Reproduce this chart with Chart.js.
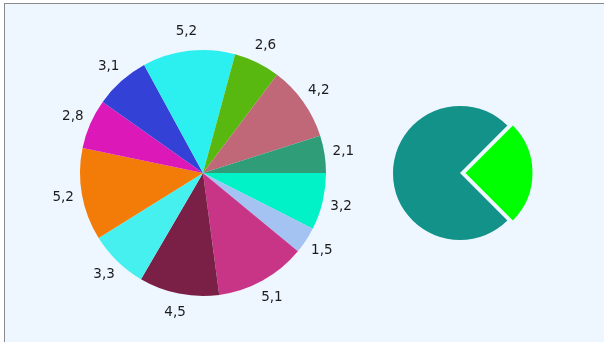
<!DOCTYPE html>
<html>
<head>
<meta charset="utf-8">
<script src="https://cdn.jsdelivr.net/npm/chart.js@4/dist/chart.umd.min.js"></script>
<style>
  html, body { margin: 0; padding: 0; background: #ffffff; overflow: hidden; }
  #frame {
    position: absolute; left: 4px; top: 3px; width: 640px; height: 380px;
    background: #eef6ff;
    border-left: 1px solid #8a8a8a; border-top: 1px solid #8a8a8a;
  }
  canvas { position: absolute; }
  #bigPie { left: 38px; top: 8px; }
  #smallPie { left: 380px; top: 93px; }
</style>
</head>
<body>
<div id="frame"></div>
<canvas id="bigPie" width="330" height="330"></canvas>
<canvas id="smallPie" width="160" height="160"></canvas>
<script>
// slices listed clockwise starting at 3 o'clock
const bigValues = [3.2, 1.5, 5.1, 4.5, 3.3, 5.2, 2.8, 3.1, 5.2, 2.6, 4.2, 2.1];
const bigColors = ['#00f2c6', '#a4c2f2', '#c93586', '#7a2046', '#46f0ee', '#f27c07',
                   '#dc18b8', '#3441d6', '#2cf0f0', '#58b810', '#c06878', '#2f9e78'];

const smallValues = [25, 75];
const smallColors = ['#00ff00', '#139289'];

// writes each slice value just outside the pie, decimal comma
const outerLabels = {
    id: 'outerLabels',
    afterDatasetsDraw(chart) {
        const ctx = chart.ctx;
        const meta = chart.getDatasetMeta(0);
        const values = chart.data.datasets[0].data;
        ctx.save();
        ctx.font = '13.5px "DejaVu Sans"';
        ctx.fillStyle = '#1c1c1c';
        ctx.textAlign = 'center';
        ctx.textBaseline = 'middle';
        meta.data.forEach((arc, i) => {
            const mid = (arc.startAngle + arc.endAngle) / 2;
            const r = arc.outerRadius + 19;
            const x = arc.x + Math.cos(mid) * r;
            const y = arc.y + Math.sin(mid) * r;
            ctx.fillText(values[i].toFixed(1).replace('.', ','), x, y);
        });
        ctx.restore();
    }
};

const commonOptions = {
    responsive: false,
    animation: false,
    devicePixelRatio: 1,
    plugins: { legend: { display: false }, tooltip: { enabled: false } }
};

new Chart(document.getElementById('bigPie'), {
    type: 'pie',
    data: {
        labels: bigValues.map(v => v.toFixed(1)),
        datasets: [{ data: bigValues, backgroundColor: bigColors, borderWidth: 0 }]
    },
    options: { ...commonOptions, rotation: 90, radius: 123 },
    plugins: [outerLabels]
});

// arc offset is divided by 4 when drawn, so 22 pulls the slice out ~5.5px
new Chart(document.getElementById('smallPie'), {
    type: 'pie',
    data: {
        labels: ['A', 'B'],
        datasets: [{
            data: smallValues,
            backgroundColor: smallColors,
            borderWidth: 0,
            offset: [22, 0]
        }]
    },
    options: { ...commonOptions, rotation: 45, radius: 67 }
});
</script>
</body>
</html>
